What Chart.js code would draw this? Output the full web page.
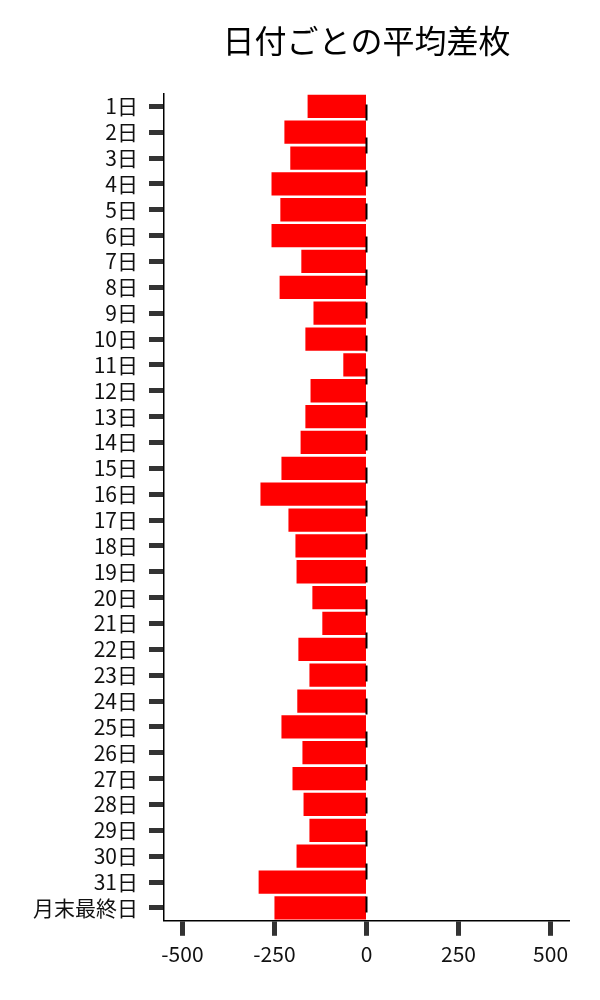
<!DOCTYPE html>
<html>
<head>
<meta charset="utf-8">
<script src="https://cdn.jsdelivr.net/npm/chart.js@4"></script>
<style>
  body { margin: 0; background: #fff; }
  #wrap { width: 600px; height: 1000px; }
</style>
</head>
<body>
<div id="wrap"><canvas id="chart-diff" width="600" height="1000"></canvas></div>
<script>
const days = ['1日', '2日', '3日', '4日', '5日', '6日', '7日', '8日', '9日', '10日',
    '11日', '12日', '13日', '14日', '15日', '16日', '17日', '18日', '19日', '20日',
    '21日', '22日', '23日', '24日', '25日', '26日', '27日', '28日', '29日', '30日',
    '31日', '月末最終日'];
const avgDiff = [-160, -223, -207, -258, -234, -258, -177, -236, -144, -166,
    -63, -152, -166, -179, -231, -288, -212, -193, -190, -147,
    -120, -185, -155, -188, -231, -174, -201, -171, -155, -190,
    -293, -250];
const xTicks = [-500, -250, 0, 250, 500];
const xMin = -550;
const xMax = 550;

const fontFamily = "'Noto Sans CJK JP', 'Noto Sans', sans-serif";

// dashed line at zero
const zeroLine = {
    id: 'zeroLine',
    afterDatasetsDraw(chart) {
        const { ctx, chartArea, scales } = chart;
        const x = scales.x.getPixelForValue(0);
        ctx.save();
        ctx.strokeStyle = '#000';
        ctx.lineWidth = 2;
        ctx.setLineDash([16, 17]);
        ctx.lineDashOffset = 22;
        ctx.beginPath();
        ctx.moveTo(x, chartArea.top);
        ctx.lineTo(x, chartArea.bottom);
        ctx.stroke();
        ctx.restore();
    }
};

const chartDiff = new Chart(document.getElementById('chart-diff'), {
    type: 'bar',
    data: {
        labels: days,
        datasets: [{
            label: '平均差枚',
            data: avgDiff,
            backgroundColor: '#ff0000',
            borderWidth: 0,
            barPercentage: 0.9,
            categoryPercentage: 1,
        }]
    },
    options: {
        indexAxis: 'y',
        responsive: false,
        animation: false,
        devicePixelRatio: 1,
        layout: {
            padding: { left: 22, right: 31, top: 10, bottom: 27 }
        },
        scales: {
            x: {
                min: xMin,
                max: xMax,
                afterBuildTicks: axis => {
                    axis.ticks = xTicks.map(v => ({ value: v }));
                },
                grid: {
                    drawOnChartArea: false,
                    drawTicks: true,
                    tickLength: 15,
                    tickWidth: 5,
                    tickColor: '#333',
                },
                border: { color: '#000', width: 1.5 },
                ticks: {
                    color: '#111',
                    padding: 6,
                    font: { size: 21, family: fontFamily },
                    maxRotation: 0,
                }
            },
            y: {
                grid: {
                    drawOnChartArea: false,
                    drawTicks: true,
                    tickLength: 15,
                    tickWidth: 5,
                    tickColor: '#333',
                    offset: false,
                },
                border: { color: '#000', width: 1.5 },
                ticks: {
                    color: '#111',
                    padding: 11,
                    autoSkip: false,
                    font: { size: 21, family: fontFamily },
                }
            }
        },
        plugins: {
            legend: { display: false },
            tooltip: { enabled: false },
            title: {
                display: true,
                text: '日付ごとの平均差枚',
                fullSize: false,
                color: '#000',
                font: { size: 32, weight: 'normal', family: fontFamily },
                padding: { top: 12, bottom: 33 }
            }
        }
    },
    plugins: [zeroLine]
});
</script>
</body>
</html>
